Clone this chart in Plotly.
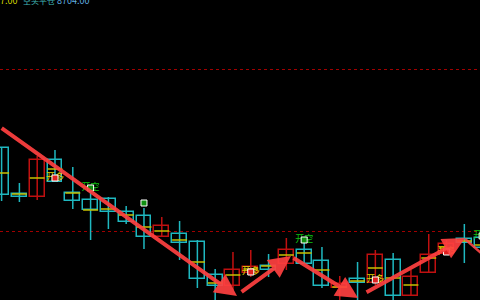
import plotly.graph_objects as go

idx = list(range(28))
opens = [8731.5, 8730.9, 8742.0, 8735.4, 8729.7, 8727.0, 8726.4, 8723.4, 8718.9, 8722.2,
         8717.1, 8706.3, 8704.2, 8709.0, 8709.9, 8709.0, 8715.0, 8710.8, 8704.2, 8704.8,
         8705.1, 8713.5, 8701.2, 8706.9, 8713.5, 8716.8, 8717.1, 8715.6]
highs = [8745.6, 8735.1, 8743.2, 8745.0, 8739.9, 8733.6, 8730.9, 8728.2, 8727.6, 8724.9,
         8723.7, 8718.0, 8709.3, 8714.4, 8715.0, 8713.8, 8718.6, 8718.9, 8715.9, 8707.2,
         8711.4, 8715.0, 8714.1, 8709.0, 8719.8, 8718.0, 8722.8, 8719.2]
lows = [8729.7, 8729.4, 8730.0, 8735.4, 8727.3, 8718.0, 8721.3, 8722.8, 8715.3, 8718.9,
        8712.0, 8703.6, 8698.5, 8703.0, 8706.9, 8706.9, 8709.0, 8710.8, 8703.6, 8698.5,
        8698.5, 8704.5, 8698.5, 8701.2, 8708.1, 8713.8, 8711.1, 8715.0]
closes = [8745.6, 8731.8, 8730.9, 8742.0, 8732.1, 8730.0, 8730.3, 8726.4, 8725.2, 8718.9,
          8719.8, 8717.4, 8707.5, 8704.2, 8708.1, 8710.2, 8710.8, 8715.0, 8711.7, 8703.6,
          8706.3, 8705.1, 8712.0, 8701.2, 8708.1, 8713.8, 8718.3, 8718.6]
avg_marks = [8738.1, 8731.8, 8736.6, 8739.3, 8732.1, 8727.0, 8727.3, 8725.5, 8721.9, 8720.7,
             8718.0, 8711.4, 8705.1, 8707.5, 8709.3, 8710.2, 8713.5, 8714.1, 8709.0, 8703.9,
             8705.7, 8709.6, 8706.6, 8704.5, 8712.6, 8715.6, 8717.7, 8716.5]

long_idx = [3, 14, 21, 25]
long_y = [8736.6, 8708.4, 8706.0, 8714.4]
short_idx = [5, 17, 27]
short_y = [8733.6, 8718.0, 8719.2]
plain_idx = [8]
plain_y = [8729.1]

grid_levels = [8720.5, 8769.2]

# arrows: (tail_x, tail_y, head_x, head_y)
arrow_tail_x = [-0.08, 13.40, 16.32, 20.42]
arrow_tail_y = [8751.9, 8702.1, 8712.9, 8702.1]
arrow_head_x = [13.23, 16.26, 20.03, 26.04]
arrow_head_y = [8701.2, 8713.2, 8700.6, 8718.6]
tail_line_x = [26.04, 27.5]
tail_line_y = [8718.3, 8711.5]

header_texts = ["7.00", "空头平仓", "8704.00"]
header_colors = ["#d8d800", "#40b8b8", "#60b0e0"]
header_x = [-2, 21, 55]
header_sizes = [9, 8, 9]

CYAN = "#1fb8c0"
RED = "#c01010"
YEL = "#c8c000"

up = [c >= o for o, c in zip(opens, closes)]
colors = [CYAN if u else RED for u in up]

fig = go.Figure()

# wicks
for col in (CYAN, RED):
    wx, wy = [], []
    for k, h, l, c in zip(idx, highs, lows, colors):
        if c == col:
            wx += [k, k, None]
            wy += [l, h, None]
    fig.add_trace(go.Scatter(x=wx, y=wy, mode="lines", line=dict(color=col, width=1.5),
                             hoverinfo="skip", showlegend=False))

# hollow bodies
fig.add_trace(go.Bar(
    x=idx, base=[min(o, c) for o, c in zip(opens, closes)],
    y=[max(abs(c - o), 0.3) for o, c in zip(opens, closes)],
    width=0.84, marker=dict(color="black", line=dict(color=colors, width=1.5)),
    hoverinfo="skip", showlegend=False))

yx, yy = [], []
for k, v in zip(idx, avg_marks):
    yx += [k - 0.42, k + 0.42, None]
    yy += [v, v, None]
fig.add_trace(go.Scatter(x=yx, y=yy, mode="lines", line=dict(color=YEL, width=1.5),
                         hoverinfo="skip", showlegend=False))

fig.add_trace(go.Scatter(x=tail_line_x, y=tail_line_y, mode="lines",
                         line=dict(color="rgba(255,70,70,0.9)", width=2.5),
                         hoverinfo="skip", showlegend=False))

fig.add_trace(go.Scatter(x=long_idx, y=long_y, mode="text", text=["开多"] * len(long_idx),
                         textfont=dict(color="#e0d000", size=9, family="Noto Sans CJK SC"),
                         hoverinfo="skip", showlegend=False))
fig.add_trace(go.Scatter(x=long_idx, y=long_y, mode="markers",
                         marker=dict(symbol="square", size=6, color="#e02020",
                                     line=dict(color="white", width=1)),
                         hoverinfo="skip", showlegend=False))
fig.add_trace(go.Scatter(x=short_idx, y=short_y, mode="text", text=["开空"] * len(short_idx),
                         textfont=dict(color="#10c010", size=9, family="Noto Sans CJK SC"),
                         hoverinfo="skip", showlegend=False))
fig.add_trace(go.Scatter(x=short_idx + plain_idx, y=short_y + plain_y, mode="markers",
                         marker=dict(symbol="square", size=6, color="#109010",
                                     line=dict(color="white", width=1)),
                         hoverinfo="skip", showlegend=False))

for tx, ty, hx, hy in zip(arrow_tail_x, arrow_tail_y, arrow_head_x, arrow_head_y):
    fig.add_annotation(x=hx, y=hy, ax=tx, ay=ty, xref="x", yref="y", axref="x", ayref="y",
                       text="", showarrow=True, arrowhead=2, arrowsize=1.1, arrowwidth=4,
                       arrowcolor="rgba(255,64,64,0.92)")

for t, c, xs, fs in zip(header_texts, header_colors, header_x, header_sizes):
    fig.add_annotation(x=0, y=1, xref="paper", yref="paper", xanchor="left", yanchor="middle",
                       xshift=xs, yshift=0, text=t, showarrow=False,
                       font=dict(color=c, size=fs, family="Noto Sans CJK SC"))

fig.update_layout(
    width=480, height=300, margin=dict(l=0, r=0, t=0, b=0),
    paper_bgcolor="black", plot_bgcolor="black", bargap=0,
    xaxis=dict(range=[-0.09, 26.88], showgrid=False, zeroline=False, showticklabels=False,
               fixedrange=True),
    yaxis=dict(range=[8700, 8790], tickvals=grid_levels, showgrid=True, gridcolor="#a00000",
               griddash="dot", gridwidth=1, zeroline=False, showticklabels=False),
)
fig.write_html("out.html")
